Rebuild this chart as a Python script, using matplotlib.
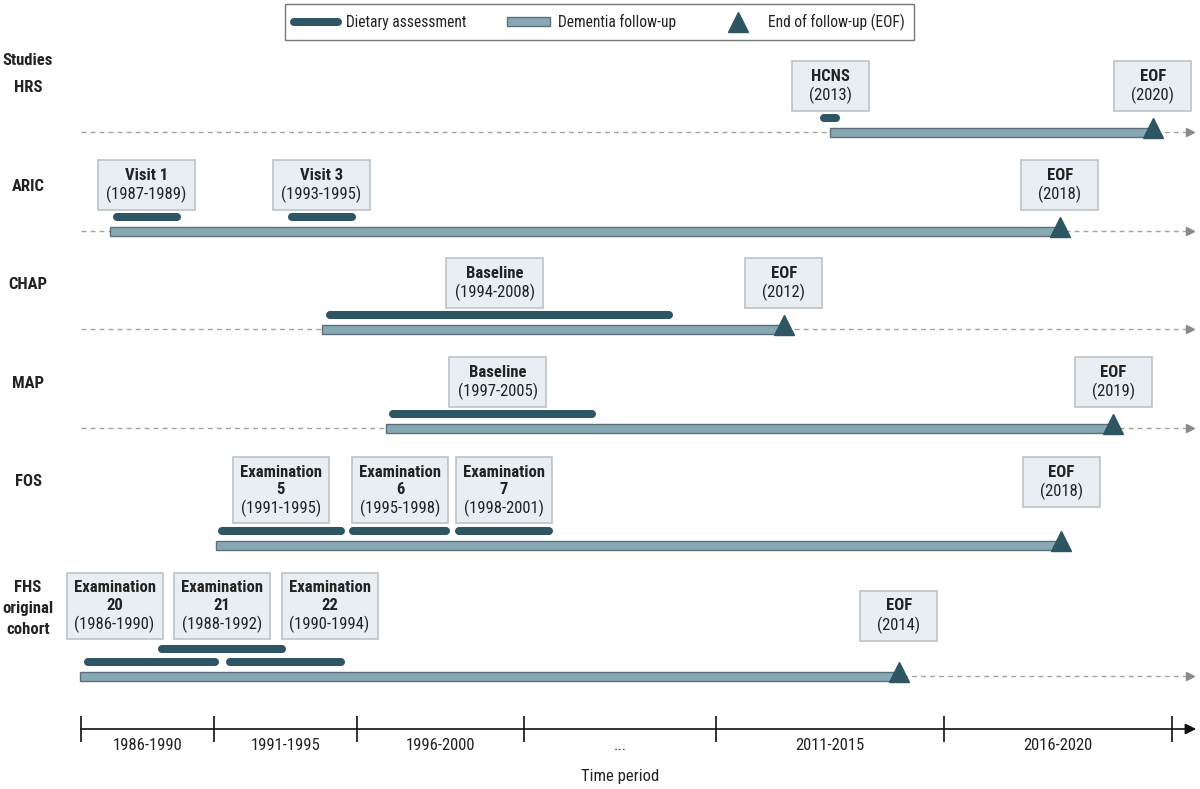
import numpy as np
import matplotlib
matplotlib.use("Agg")
import matplotlib.pyplot as plt
from matplotlib import font_manager
from matplotlib.patches import Rectangle, Patch
from matplotlib.lines import Line2D
from matplotlib.transforms import blended_transform_factory

# pick a narrow font if there is one
names = {f.name for f in font_manager.fontManager.ttflist}
FONT = "DejaVu Sans"
for cand in ["Roboto Condensed", "Liberation Sans Narrow", "Open Sans Condensed", "Liberation Sans"]:
    if cand in names:
        FONT = cand
        break
plt.rcParams["font.family"] = [FONT, "DejaVu Sans"]

# ---- data ----
period_edges = [1986, 1991, 1996, 2001, 2011, 2016, 2021]
period_labels = ["1986-1990", "1991-1995", "1996-2000", "...", "2011-2015", "2016-2020"]

studies = ["HRS", "ARIC", "CHAP", "MAP", "FOS", "FHS\noriginal\ncohort"]
followup_start = [2013.5, 1987.09, 1994.78, 1996.87, 1991.07, 1985.96]
followup_end = [2020.58, 2018.54, 2012.49, 2019.71, 2018.57, 2015.01]
eof_years = [2020, 2018, 2012, 2019, 2018, 2014]
dashed_ext = [True, True, True, True, False, True]

hrs_diet = [(2013.37, 2013.63)]
aric_diet = [(1987.35, 1989.60), (1993.73, 1995.83)]
chap_diet = [(1995.06, 2008.55)]
map_diet = [(1997.08, 2004.54)]
fos_diet = [(1991.28, 1995.44), (1995.86, 1998.66), (1999.06, 2002.30)]
fhs_diet = [(1986.26, 1991.03), (1989.05, 1993.38), (1991.56, 1995.44)]
diets = [hrs_diet, aric_diet, chap_diet, map_diet, fos_diet, fhs_diet]

hrs_labels = [("HCNS", "(2013)", 2013.5)]
aric_labels = [("Visit 1", "(1987-1989)", 1988.46), ("Visit 3", "(1993-1995)", 1994.76)]
chap_labels = [("Baseline", "(1994-2008)", 2000.12)]
map_labels = [("Baseline", "(1997-2005)", 2000.21)]
fos_labels = [("Examination\n5", "(1991-1995)", 1993.34), ("Examination\n6", "(1995-1998)", 1997.29),
              ("Examination\n7", "(1998-2001)", 2000.40)]
fhs_labels = [("Examination\n20", "(1986-1990)", 1987.26), ("Examination\n21", "(1988-1992)", 1991.28),
              ("Examination\n22", "(1990-1994)", 1995.04)]
box_labels = [hrs_labels, aric_labels, chap_labels, map_labels, fos_labels, fhs_labels]

# ---- layout (pixel-like units) ----
row_y = [132, 231, 329, 428, 545, 676]
name_y = [87, 186, 284, 383, 481, 608]
box_top = [61, 160, 258, 357, 457, 573]
eof_top = [61, 160, 258, 357, 457, 591]
fhs_levels = [0, 1, 0]

DIET = "#2E5662"
FU = "#87A9B6"
FU_EDGE = "#5E6F77"
BOX = "#E8EEF2"
BOX_EDGE = "#BCC3C7"
DASH = "#A3A3A3"
TXT = "#222222"
FS = 12

# piecewise time scale: each period gets its own width
edge_px = [81, 214, 357, 524, 716, 944, 1172]
xp = [1980] + period_edges + [2026]
fp = [81 - 6 * 26.6] + edge_px + [1172 + 5 * 45.6]


def fwd(x):
    return np.interp(x, xp, fp)


def inv(p):
    return np.interp(p, fp, xp)


fig = plt.figure(figsize=(12, 7.89), dpi=100)
ax = fig.add_axes([0, 0, 1, 1])
ax.set_xscale("function", functions=(fwd, inv))
ax.set_xlim(inv(0), inv(1200))
ax.set_ylim(789, 0)
ax.axis("off")
lab_tr = blended_transform_factory(ax.transAxes, ax.transData)

dash_end = 2021.39


def draw_box(cx, top, w, title, sub):
    nl = title.count("\n") + 1
    h = 50 if nl == 1 else 66
    x0 = inv(fwd(cx) - w / 2)
    x1 = inv(fwd(cx) + w / 2)
    ax.add_patch(Rectangle((x0, top), x1 - x0, h, facecolor=BOX, edgecolor=BOX_EDGE, lw=1.2, zorder=3))
    for i, line in enumerate(title.split("\n")):
        ax.text(cx, top + 15 + 17 * i, line, ha="center", va="center", fontsize=FS,
                fontweight="bold", color=TXT, zorder=4)
    ax.text(cx, top + 15 + 17 * nl + 2, sub, ha="center", va="center", fontsize=FS,
            color=TXT, zorder=4)


for i, name in enumerate(studies):
    y = row_y[i]
    ax.text(28 / 1200, name_y[i], name, transform=lab_tr, ha="center", va="center",
            fontsize=FS, fontweight="bold", color=TXT, linespacing=1.5)
    if dashed_ext[i]:
        ax.plot([period_edges[0], dash_end], [y, y], ls=(0, (3.5, 3)), lw=1, color=DASH, zorder=1)
        ax.plot([dash_end], [y], marker=">", ms=6, color="#8A8A8A", ls="none", zorder=1)
    ax.barh(y, followup_end[i] - followup_start[i], left=followup_start[i], height=9,
            color=FU, edgecolor=FU_EDGE, lw=1, zorder=2)
    ax.plot([followup_end[i]], [y - 4], marker="^", ms=14, color=DIET, ls="none", zorder=5)
    for j, (a, b) in enumerate(diets[i]):
        lvl = fhs_levels[j] if name.startswith("FHS") else 0
        ax.plot([a, b], [y - 14 - 13 * lvl] * 2, lw=5.8, color=DIET, solid_capstyle="round", zorder=3)
    for title, sub, cx in box_labels[i]:
        w = 77 if len(sub) <= 6 else (96 if title.startswith("Exam") else 97)
        draw_box(cx, box_top[i], w, title, sub)
    draw_box(followup_end[i], eof_top[i], 77, "EOF", "(%d)" % eof_years[i])

ax.text(28 / 1200, 60, "Studies", transform=lab_tr, ha="center", va="center",
        fontsize=FS, fontweight="bold", color=TXT)

# time axis
axis_y = 729
ax.annotate("", xy=(2021.53, axis_y), xytext=(period_edges[0], axis_y),
            arrowprops=dict(arrowstyle="-|>", color="#111111", lw=1.2, mutation_scale=16,
                            shrinkA=0, shrinkB=0))
ax.vlines(period_edges, axis_y - 13, axis_y + 13, color="#111111", lw=1.2)
for k, lab in enumerate(period_labels):
    mid = inv((fwd(period_edges[k]) + fwd(period_edges[k + 1])) / 2)
    ax.text(mid, axis_y + 17, lab, ha="center", va="center", fontsize=FS, color=TXT)
ax.text(620 / 1200, 776, "Time period", transform=lab_tr, ha="center", va="center",
        fontsize=FS, color=TXT)

# legend
handles = [Line2D([], [], color=DIET, lw=5.8, solid_capstyle="round"),
           Patch(facecolor=FU, edgecolor=FU_EDGE, lw=1),
           Line2D([], [], ls="none", marker="^", ms=14, color=DIET)]
leg = ax.legend(handles, ["Dietary assessment", "Dementia follow-up", "End of follow-up (EOF)"],
                ncol=3, loc="center", bbox_to_anchor=(599.5 / 1200, 1 - 22 / 789),
                frameon=True, fancybox=False, edgecolor="#555555", fontsize=11.2,
                handlelength=2.8, handleheight=0.5, columnspacing=2.6, borderpad=0.6,
                handletextpad=0.5)
leg.get_frame().set_linewidth(1)
for t in leg.get_texts():
    t.set_color(TXT)

fig.savefig("out.png", dpi=100)
